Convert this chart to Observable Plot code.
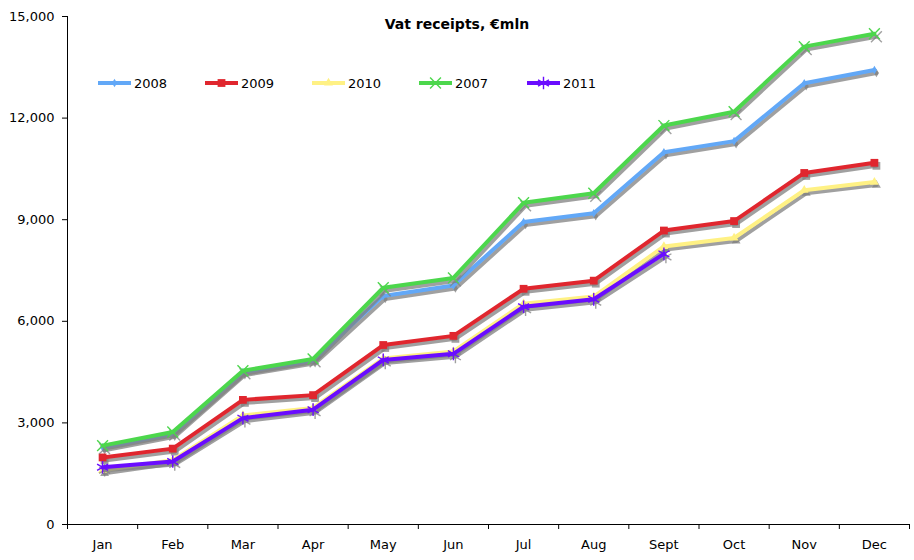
<!DOCTYPE html>
<html>
<head>
<meta charset="utf-8">
<script src="https://cdn.jsdelivr.net/npm/d3@7"></script>
<script src="https://cdn.jsdelivr.net/npm/@observablehq/plot@0.6"></script>
<style>
  body { margin: 0; background: #fff; font-family: "DejaVu Sans", Verdana, sans-serif; }
  #wrap { position: relative; width: 914px; height: 560px; }
  #title { position: absolute; left: 0; top: 16px; width: 914px; text-align: center; font-weight: bold; font-size: 14px; color: #000; }
  .leg { position: absolute; top: 75px; height: 16px; display: flex; align-items: center; font-size: 13px; color: #000; }
  .leg svg { display: block; margin-right: 3px; }
</style>
</head>
<body>
<div id="wrap">
  <div id="chart"></div>
  <div id="title">Vat receipts, €mln</div>
</div>
<script>
const months = ["Jan","Feb","Mar","Apr","May","Jun","Jul","Aug","Sept","Oct","Nov","Dec"];
const seriesNames = ["2008", "2009", "2010", "2007", "2011"];
const v2008 = [2280, 2680, 4500, 4850, 6750, 7060, 8930, 9190, 10990, 11320, 13030, 13420];
const v2009 = [1980, 2240, 3680, 3820, 5300, 5570, 6960, 7200, 8680, 8960, 10380, 10680];
const v2010 = [1600, 1900, 3220, 3440, 4900, 5110, 6520, 6730, 8210, 8460, 9870, 10110];
const v2007 = [2330, 2730, 4540, 4890, 6990, 7280, 9500, 9780, 11780, 12190, 14110, 14490];
const v2011 = [1690, 1860, 3140, 3390, 4860, 5040, 6430, 6650, 7990];
const yTicks = [0, 3000, 6000, 9000, 12000, 15000];

const colors = ["#62a8f7", "#e0262e", "#fff184", "#4cd74c", "#6a0cff"];
const symbols = ["diamond", "square", "triangle", "times", "asterisk"];
const d3symbols = [d3.symbolDiamond, d3.symbolSquare, d3.symbolTriangle, d3.symbolTimes, d3.symbolAsterisk];
const radii = [2.6, 4.4, 3.3, 5, 6];
const filled = [true, true, true, false, false];
const valuesList = [v2008, v2009, v2010, v2007, v2011];

const shadow = "#808080";
const marks = [];
valuesList.forEach((vals, s) => {
  const data = vals.map((v, i) => ({i, v}));
  marks.push(Plot.line(data, {x: "i", y: "v", stroke: shadow, strokeOpacity: 0.75, strokeWidth: 4, dx: 2, dy: 3}));
  marks.push(Plot.dot(data, filled[s]
    ? {x: "i", y: "v", symbol: () => symbols[s], r: radii[s], fill: shadow, fillOpacity: 0.75, stroke: "none", dx: 2, dy: 3}
    : {x: "i", y: "v", symbol: () => symbols[s], r: radii[s], stroke: shadow, strokeOpacity: 0.75, strokeWidth: 1.4, fill: "none", dx: 2, dy: 3}));
  marks.push(Plot.line(data, {x: "i", y: "v", stroke: colors[s], strokeWidth: 4}));
  marks.push(Plot.dot(data, filled[s]
    ? {x: "i", y: "v", symbol: () => symbols[s], r: radii[s], fill: colors[s], stroke: "none"}
    : {x: "i", y: "v", symbol: () => symbols[s], r: radii[s], stroke: colors[s], strokeWidth: 1.4, fill: "none"}));
});

const chart = Plot.plot({
  width: 914,
  height: 560,
  marginLeft: 67,
  marginRight: 5,
  marginTop: 16,
  marginBottom: 36,
  style: {fontFamily: "DejaVu Sans, Verdana, sans-serif", fontSize: "13px", color: "#000", background: "#fff"},
  x: {type: "linear", domain: [-0.5, 11.5], label: null, axis: null},
  y: {domain: [0, 15000], label: null, axis: null},
  symbol: {type: "identity"},
  marks: [
    Plot.axisY(yTicks, {tickFormat: d3.format(","), tickSize: 5, tickPadding: 8, label: null, fontSize: 13}),
    Plot.axisX(d3.range(13).map(k => k - 0.5), {tickFormat: () => "", tickSize: 5, label: null}),
    Plot.axisX(d3.range(12), {tickFormat: i => months[i], tickSize: 0, tickPadding: 15, label: null, fontSize: 13}),
    ...marks,
    Plot.ruleX([-0.5], {stroke: "#000", strokeWidth: 1}),
    Plot.ruleY([0], {stroke: "#000", strokeWidth: 1})
  ]
});
document.getElementById("chart").appendChild(chart);

// legend
const legLeft = [98, 205, 312, 419, 527];
const wrap = document.getElementById("wrap");
seriesNames.forEach((name, s) => {
  const div = document.createElement("div");
  div.className = "leg";
  div.style.left = legLeft[s] + "px";
  const w = 33, h = 16;
  const svg = d3.create("svg").attr("width", w).attr("height", h);
  svg.append("line").attr("x1", 0).attr("x2", w).attr("y1", h / 2).attr("y2", h / 2)
    .attr("stroke", colors[s]).attr("stroke-width", 4);
  const p = svg.append("path")
    .attr("d", d3.symbol(d3symbols[s], radii[s] * radii[s] * Math.PI)())
    .attr("transform", `translate(${w / 2},${h / 2})`);
  if (filled[s]) p.attr("fill", colors[s]);
  else p.attr("fill", "none").attr("stroke", colors[s]).attr("stroke-width", 1.4);
  div.appendChild(svg.node());
  const span = document.createElement("span");
  span.textContent = name;
  div.appendChild(span);
  wrap.appendChild(div);
});
</script>
</body>
</html>
